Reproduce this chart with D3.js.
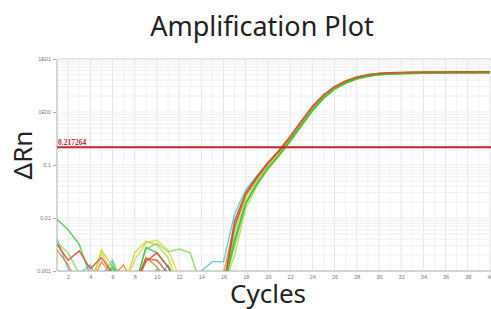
<!DOCTYPE html>
<html>
<head>
<meta charset="utf-8">
<script src="https://cdn.jsdelivr.net/npm/d3@7"></script>
<style>
  body { margin: 0; background: #fff; }
  svg { display: block; }
</style>
</head>
<body>
<svg id="chart" width="491" height="309"></svg>
<script>
var svg = d3.select("#chart");

// cycles 1..40
var cycles = d3.range(1, 41);
var xTicks = [2, 4, 6, 8, 10, 12, 14, 16, 18, 20, 22, 24, 26, 28, 30, 32, 34, 36, 38, 40];
var yTicks = [10, 1, 0.1, 0.01, 0.001];
var yTickLabels = ["1E01", "1E00", "0.1", "0.01", "0.001"];
var threshold = 0.217264;

// one array per well, values of delta Rn per cycle (0.0005 = below the axis)
var wellA = [0.0095, 0.006, 0.0032, 0.0008, 0.0005, 0.0012, 0.0006, 0.0005, 0.0005, 0.0009, 0.0005, 0.0005, 0.0005, 0.0005, 0.0005,
  0.0005, 0.004, 0.02, 0.045, 0.09, 0.155, 0.29, 0.56, 1.08, 1.85, 2.75, 3.55, 4.25, 4.75, 5.1, 5.25, 5.32, 5.38, 5.42, 5.45, 5.48, 5.5, 5.52, 5.54, 5.55];
var wellB = [0.0032, 0.0016, 0.0024, 0.0011, 0.0018, 0.0009, 0.0005, 0.0005, 0.0015, 0.0022, 0.0012, 0.0005, 0.0005, 0.0005, 0.0005,
  0.0005, 0.007, 0.027, 0.055, 0.105, 0.18, 0.33, 0.64, 1.22, 2.05, 2.95, 3.8, 4.5, 5.0, 5.3, 5.45, 5.52, 5.57, 5.6, 5.63, 5.65, 5.67, 5.68, 5.69, 5.7];
var wellC = [0.004, 0.0011, 0.0005, 0.0005, 0.0008, 0.0016, 0.0005, 0.0005, 0.0005, 0.0011, 0.0007, 0.0005, 0.0005, 0.001, 0.0015,
  0.0015, 0.012, 0.034, 0.062, 0.11, 0.18, 0.32, 0.62, 1.18, 2.0, 2.9, 3.7, 4.4, 4.9, 5.2, 5.35, 5.42, 5.47, 5.5, 5.53, 5.55, 5.57, 5.58, 5.6, 5.6];
var wellD = [0.0005, 0.0005, 0.0005, 0.0005, 0.0022, 0.0009, 0.0005, 0.0016, 0.0034, 0.0038, 0.0025, 0.0008, 0.0005, 0.0005, 0.0005,
  0.0005, 0.005, 0.024, 0.05, 0.1, 0.17, 0.31, 0.6, 1.15, 1.95, 2.85, 3.65, 4.35, 4.85, 5.15, 5.3, 5.38, 5.43, 5.47, 5.5, 5.52, 5.54, 5.56, 5.57, 5.58];
var wellE = [0.0025, 0.0013, 0.0005, 0.0005, 0.0015, 0.0008, 0.0013, 0.0005, 0.0018, 0.0012, 0.0006, 0.0005, 0.0005, 0.0005, 0.0005,
  0.0009, 0.008, 0.029, 0.058, 0.11, 0.185, 0.34, 0.66, 1.25, 2.1, 3.0, 3.85, 4.55, 5.05, 5.35, 5.5, 5.57, 5.62, 5.65, 5.68, 5.7, 5.72, 5.73, 5.74, 5.75];
var wellF = [0.0035, 0.0022, 0.0009, 0.0005, 0.0005, 0.0014, 0.0005, 0.0005, 0.0026, 0.0033, 0.0023, 0.0026, 0.0022, 0.0005, 0.0005,
  0.0005, 0.003, 0.018, 0.042, 0.085, 0.15, 0.28, 0.54, 1.05, 1.8, 2.7, 3.5, 4.2, 4.7, 5.05, 5.2, 5.28, 5.33, 5.37, 5.4, 5.43, 5.45, 5.47, 5.48, 5.5];
var wellG = [0.0005, 0.0005, 0.0009, 0.0013, 0.0005, 0.0011, 0.0005, 0.0005, 0.0005, 0.0007, 0.0013, 0.0005, 0.0005, 0.0005, 0.0005,
  0.0005, 0.006, 0.03, 0.06, 0.108, 0.18, 0.33, 0.63, 1.2, 2.02, 2.92, 3.75, 4.45, 4.95, 5.25, 5.4, 5.47, 5.52, 5.55, 5.58, 5.6, 5.62, 5.63, 5.64, 5.65];
var wellH = [0.0005, 0.0005, 0.0005, 0.0005, 0.0025, 0.0012, 0.0005, 0.0022, 0.0036, 0.0031, 0.0018, 0.0005, 0.0005, 0.0005, 0.0005,
  0.0005, 0.002, 0.015, 0.04, 0.082, 0.148, 0.275, 0.53, 1.03, 1.78, 2.68, 3.48, 4.18, 4.68, 5.02, 5.18, 5.26, 5.31, 5.35, 5.38, 5.41, 5.43, 5.45, 5.46, 5.48];
var wellI = [0.0005, 0.0005, 0.0005, 0.0005, 0.0005, 0.0005, 0.0005, 0.0005, 0.0028, 0.0022, 0.0012, 0.0005, 0.0005, 0.0005, 0.0005,
  0.0005, 0.0035, 0.019, 0.044, 0.088, 0.152, 0.285, 0.55, 1.06, 1.82, 2.72, 3.52, 4.22, 4.72, 5.06, 5.22, 5.3, 5.35, 5.39, 5.42, 5.45, 5.47, 5.49, 5.5, 5.52];
var wellJ = [0.0005, 0.0005, 0.0005, 0.0005, 0.0005, 0.0005, 0.0005, 0.0005, 0.0017, 0.0016, 0.0009, 0.0005, 0.0005, 0.0005, 0.0005,
  0.0005, 0.009, 0.03, 0.06, 0.112, 0.19, 0.35, 0.68, 1.28, 2.12, 3.02, 3.88, 4.58, 5.08, 5.38, 5.52, 5.6, 5.65, 5.68, 5.7, 5.72, 5.74, 5.75, 5.76, 5.77];

var wells = [wellG, wellC, wellD, wellH, wellF, wellI, wellA, wellB, wellE, wellJ];
var wellColors = ["#6fb7e2", "#4cc4d6", "#e5d03c", "#b9d53b", "#7ed957", "#2fbf4f", "#3cc83c", "#d8452f", "#e8832c", "#c0552a"];

// plot box (window.top is reserved, so use own names)
var plotL = 57, plotR = 490, plotT = 59, plotB = 271;

var x = d3.scaleLinear().domain([1, 40]).range([plotL, plotR]);
var y = d3.scaleLog().domain([0.001, 10]).range([plotB, plotT]);

// grid
var grid = svg.append("g");
grid.selectAll(".vminor")
    .data(cycles)
    .enter()
    .append("line")
    .attr("x1", function(d) { return x(d); })
    .attr("x2", function(d) { return x(d); })
    .attr("y1", plotT)
    .attr("y2", plotB)
    .attr("stroke", function(d) { return d % 2 == 0 ? "#e4e4e4" : "#f2f2f2"; })
    .attr("stroke-width", 1);

var hLines = [];
[0.001, 0.01, 0.1, 1].forEach(function(dec) {
    for (var k = 1; k < 10; k++) hLines.push(dec * k);
});
grid.selectAll(".hminor")
    .data(hLines)
    .enter()
    .append("line")
    .attr("x1", plotL)
    .attr("x2", plotR)
    .attr("y1", function(d) { return y(d); })
    .attr("y2", function(d) { return y(d); })
    .attr("stroke", "#eeeeee")
    .attr("stroke-width", 1);

// frame
svg.append("line").attr("x1", plotL).attr("x2", 491).attr("y1", plotT).attr("y2", plotT)
    .attr("stroke", "#d0d0d0").attr("stroke-width", 1);
svg.append("line").attr("x1", plotL).attr("x2", plotL).attr("y1", plotT).attr("y2", plotB)
    .attr("stroke", "#c8c8c8").attr("stroke-width", 1.5);
svg.append("line").attr("x1", plotL).attr("x2", 491).attr("y1", plotB).attr("y2", plotB)
    .attr("stroke", "#c8c8c8").attr("stroke-width", 1.5);

// axes
var yAxis = d3.axisLeft(y)
    .tickValues(yTicks)
    .tickFormat(function(d, i) { return yTickLabels[i]; })
    .tickSize(3)
    .tickPadding(2);
var gy = svg.append("g").attr("transform", "translate(" + (plotL - 1) + ",0)").call(yAxis);
gy.select(".domain").remove();
gy.selectAll("line").attr("stroke", "#aaa");
gy.selectAll("text").attr("font-size", "5.5px").attr("fill", "#777").attr("font-family", "Liberation Sans, Arial, sans-serif");

var xAxis = d3.axisBottom(x).tickValues(xTicks).tickSize(0).tickPadding(4);
var gx = svg.append("g").attr("transform", "translate(0," + plotB + ")").call(xAxis);
gx.select(".domain").remove();
gx.selectAll("text").attr("font-size", "5.5px").attr("fill", "#777").attr("font-family", "Liberation Sans, Arial, sans-serif");

// curves
svg.append("clipPath").attr("id", "plotclip")
    .append("rect").attr("x", plotL).attr("y", plotT).attr("width", 491 - plotL).attr("height", plotB - plotT);

var line = d3.line()
    .x(function(d, i) { return x(cycles[i]); })
    .y(function(d) { return y(d); });

svg.append("g")
    .attr("clip-path", "url(#plotclip)")
    .selectAll("path")
    .data(wells)
    .enter()
    .append("path")
    .attr("d", line)
    .attr("fill", "none")
    .attr("stroke", function(d, i) { return wellColors[i]; })
    .attr("stroke-width", 1.4)
    .attr("stroke-opacity", 0.85);

// threshold
svg.append("line")
    .attr("x1", plotL).attr("x2", 491)
    .attr("y1", y(threshold)).attr("y2", y(threshold))
    .attr("stroke", "#c4262e")
    .attr("stroke-width", 2);

svg.append("text")
    .attr("x", plotL + 1)
    .attr("y", y(threshold) - 2.5)
    .attr("font-family", "Liberation Serif, serif")
    .attr("font-weight", "bold")
    .attr("font-size", "7.5px")
    .attr("fill", "#c4262e")
    .text(threshold);

// titles
svg.append("text")
    .attr("x", 262)
    .attr("y", 36)
    .attr("text-anchor", "middle")
    .attr("font-family", "Noto Sans")
    .attr("font-size", "27px")
    .attr("fill", "#222")
    .text("Amplification Plot");

svg.append("text")
    .attr("x", 268)
    .attr("y", 303)
    .attr("text-anchor", "middle")
    .attr("font-family", "Noto Sans")
    .attr("font-size", "26px")
    .attr("fill", "#222")
    .text("Cycles");

svg.append("text")
    .attr("transform", "translate(32,155) rotate(-90)")
    .attr("text-anchor", "middle")
    .attr("font-family", "Noto Sans")
    .attr("font-size", "26px")
    .attr("fill", "#222")
    .text("ΔRn");
</script>
</body>
</html>
